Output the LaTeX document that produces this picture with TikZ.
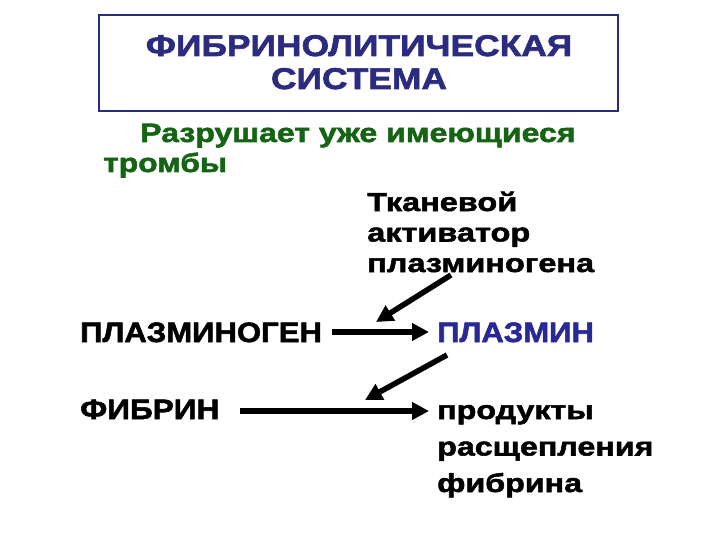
\documentclass[tikz,border=0pt]{standalone}
\usepackage{fontspec}
\setmainfont{Liberation Sans}
\usetikzlibrary{arrows.meta}
\definecolor{navy}{RGB}{43,43,128}
\definecolor{dgreen}{RGB}{20,100,20}
\definecolor{pblue}{RGB}{40,40,150}
\newcommand{\wfont}[3]{\bfseries\fontsize{#1}{#2}\selectfont\addfontfeatures{FakeStretch=#3,FakeBold=2}}
\tikzset{
  txt/.style={inner sep=0pt, anchor=base west, align=left},
  arr/.style={line width=5.5pt, -{Triangle[length=17pt,width=17pt]}},
}
\begin{document}
\begin{tikzpicture}[x=1pt,y=-1pt]
\useasboundingbox (0,0) rectangle (720,540);
\fill[white] (0,0) rectangle (720,540);
\node[draw=navy, line width=2pt, minimum width=519pt, minimum height=96pt, anchor=north west, inner sep=0pt] (box) at (98,14) {};
\node[inner sep=0pt, anchor=base, text=navy, align=center, font=\wfont{30}{33}{1.18}] (title) at (359,89) {ФИБРИНОЛИТИЧЕСКАЯ\\СИСТЕМА};
\node[txt, text=dgreen, font=\wfont{26.5}{29}{1.21}] (g1) at (140,142) {Разрушает уже имеющиеся};
\node[txt, text=dgreen, font=\wfont{26.5}{29}{1.2}] (g2) at (103,172) {тромбы};
\node[txt, font=\wfont{26}{30.5}{1.25}] (tpa) at (367,272) {Тканевой\\активатор\\плазминогена};
\node[txt, font=\wfont{28}{31}{1.11}] (pgn) at (80,342) {ПЛАЗМИНОГЕН};
\node[txt, text=pblue, font=\wfont{28}{31}{1.11}] (pl) at (437,342) {ПЛАЗМИН};
\node[txt, font=\wfont{28}{31}{1.13}] (fb) at (80,419) {ФИБРИН};
\node[txt, font=\wfont{26}{36.5}{1.24}] (pr) at (437,492) {продукты\\расщепления\\фибрина};
\coordinate (a1s) at (332,332);
\coordinate (a1e) at (429,332);
\coordinate (a2s) at (240,411);
\coordinate (a2e) at (429,411);
\coordinate (d1s) at (451,275);
\coordinate (d1e) at (376,322);
\coordinate (d2s) at (447,355);
\coordinate (d2e) at (365,400);
\draw[arr] (a1s) -- (a1e);
\draw[arr] (a2s) -- (a2e);
\draw[arr] (d1s) -- (d1e);
\draw[arr] (d2s) -- (d2e);
\end{tikzpicture}
\end{document}
